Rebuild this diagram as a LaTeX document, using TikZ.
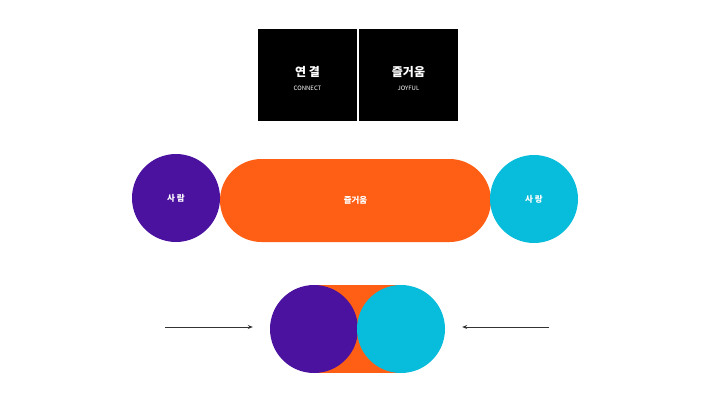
\documentclass[tikz,border=0pt]{standalone}
\usepackage{fontspec}
\newfontfamily\kr{Noto Sans CJK KR}
\usetikzlibrary{arrows.meta,shapes.misc}
\definecolor{cpurple}{HTML}{4B12A0}
\definecolor{corange}{HTML}{FF5F14}
\definecolor{ccyan}{HTML}{08BCDB}
\tikzset{
  blackbox/.style={fill=black,minimum width=99pt,minimum height=92pt,inner sep=0pt,text=white,align=center},
  ball/.style={circle,minimum size=88pt,inner sep=0pt,text=white,font=\kr\bfseries\fontsize{8.5}{9}\selectfont},
  pill/.style={rounded rectangle,fill=corange,text=white,inner sep=0pt,font=\kr\bfseries\fontsize{8.5}{9}\selectfont},
  title/.style={text=white,font=\kr\bfseries\fontsize{12}{14}\selectfont},
  subtitle/.style={text=white,font=\kr\fontsize{6}{7}\selectfont},
  arr/.style={-{Stealth[length=5pt,width=4pt]},draw=black!80,line width=0.9pt}
}
\begin{document}
\begin{tikzpicture}[x=1pt,y=-1pt]
\useasboundingbox (0,0) rectangle (715,402);
\fill[white] (0,0) rectangle (715,402);
% top boxes
\node[blackbox] (b1) at (307.5,75) {};
\node[blackbox] (b2) at (408.5,75) {};
\node[title] (t1) at (307.5,72) {연 결};
\node[subtitle] (s1) at (307.5,88) {CONNECT};
\node[title] (t2) at (408.5,72) {즐거움};
\node[subtitle] (s2) at (408.5,88) {JOYFUL};
% middle row
\node[pill,minimum width=271pt,minimum height=83pt] (p1) at (355.5,200.5) {즐거움};
\node[ball,fill=cpurple] (c1) at (176,198) {사 람};
\node[ball,fill=ccyan] (c2) at (534,199) {사 랑};
% bottom
\fill[corange] (314,285) rectangle (401,373);
\node[ball,fill=cpurple] (c3) at (314,329) {};
\node[ball,fill=ccyan] (c4) at (401,329) {};
\coordinate (la) at (165,327);
\coordinate (ra) at (549,327);
\draw[arr] (la) -- ([xshift=-17pt]c3.west |- la);
\draw[arr] (ra) -- ([xshift=17pt]c4.east |- ra);
\end{tikzpicture}
\end{document}
